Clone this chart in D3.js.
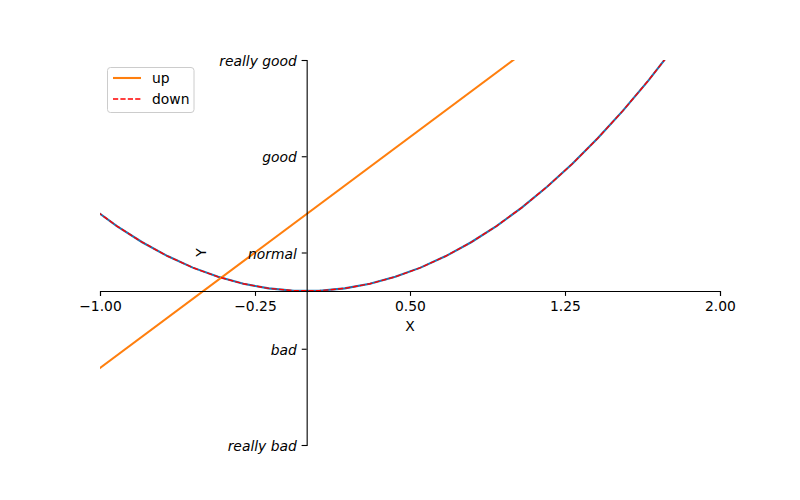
<!DOCTYPE html>
<html><head><meta charset="utf-8">
<script src="https://cdn.jsdelivr.net/npm/d3@7"></script>
<style>body{margin:0;background:#fff;} text{font-family:"DejaVu Sans",sans-serif;}</style>
</head><body>
<div id="chart"></div>
<script>
// data (x sampled from linspace(-3,3,50), visible portion)
const xs = [-1.0408,-0.9184,-0.7959,-0.6735,-0.5510,-0.4286,-0.3061,-0.1837,-0.0612,
            0.0612,0.1837,0.3061,0.4286,0.5510,0.6735,0.7959,0.9184,1.0408,1.1633,
            1.2857,1.4082,1.5306,1.6531,1.7755,1.8980,2.0204];
const downY = [1.0833,0.8434,0.6335,0.4536,0.3036,0.1837,0.0937,0.0337,0.0037,
               0.0037,0.0337,0.0937,0.1837,0.3036,0.4536,0.6335,0.8434,1.0833,1.3532,
               1.6531,1.9830,2.3428,2.7326,3.1524,3.6022,4.0820];
const upX = [-1.0408, 2.0204];
const upY = [-1.0816, 5.0408];
const xTicks = [-1, -0.25, 0.5, 1.25, 2];
const xTickLabels = ["-1.00", "-0.25", "0.50", "1.25", "2.00"];
const yTicks = [-2, -0.75, 0.5, 1.75, 3];
const yTickLabels = ["really bad", "bad", "normal", "good", "really good"];

const W = 800, H = 500;
const L = 100, R = 720, T = 60, B = 445;
const fs = 13.89;
const svg = d3.select("#chart").append("svg").attr("width", W).attr("height", H);
const x = d3.scaleLinear().domain([-1, 2]).range([L, R]);
const y = d3.scaleLinear().domain([-2, 3]).range([B, T]);

svg.append("defs").append("clipPath").attr("id","clip")
  .append("rect").attr("x",L).attr("y",T).attr("width",R-L).attr("height",B-T);

const g = svg.append("g").attr("clip-path","url(#clip)");
const line = d3.line().x(d=>x(d[0])).y(d=>y(d[1]));
const downPts = xs.map((v,i)=>[v, downY[i]]);
const upPts = upX.map((v,i)=>[v, upY[i]]);
g.append("path").attr("d", line(downPts)).attr("fill","none").attr("stroke","#1f77b4").attr("stroke-width",2.1);
g.append("path").attr("d", line(upPts)).attr("fill","none").attr("stroke","#ff7f0e").attr("stroke-width",2.1);
g.append("path").attr("d", line(downPts)).attr("fill","none").attr("stroke","red").attr("stroke-width",1.4).attr("stroke-dasharray","5.2,2.2");

// x axis at y=0
const xAxis = d3.axisBottom(x).tickValues(xTicks).tickFormat((d,i)=>xTickLabels[i]).tickSizeOuter(0).tickSize(4.9).tickPadding(4.9);
const xg = svg.append("g").attr("transform",`translate(0,${y(0)})`).call(xAxis);
xg.select(".domain").attr("stroke","#000").attr("stroke-width",1.1);
xg.selectAll(".tick line").attr("stroke","#000").attr("stroke-width",1.1);
xg.selectAll(".tick text").attr("font-size",fs).attr("fill","#000").attr("font-family","DejaVu Sans").text((d,i)=>xTickLabels[i].replace("-","\u2212"));

// y axis at x=0
const yAxis = d3.axisLeft(y).tickValues(yTicks).tickFormat((d,i)=>yTickLabels[i]).tickSizeOuter(0).tickSize(4.9).tickPadding(4.9);
const yg = svg.append("g").attr("transform",`translate(${x(0)},0)`).call(yAxis);
yg.select(".domain").attr("stroke","#000").attr("stroke-width",1.1);
yg.selectAll(".tick line").attr("stroke","#000").attr("stroke-width",1.1);
yg.selectAll(".tick text").attr("font-size",fs).attr("fill","#000").attr("font-style","italic").attr("font-family","DejaVu Sans").attr("dy","0.4em");

// axis labels
svg.append("text").attr("x",(L+R)/2).attr("y",331).attr("text-anchor","middle").attr("font-size",fs).text("X");
svg.append("text").attr("transform",`translate(206,${(T+B)/2}) rotate(-90)`).attr("text-anchor","middle").attr("font-size",fs).text("Y");

// legend
const lg = svg.append("g");
lg.append("rect").attr("x",107.5).attr("y",67.5).attr("width",86.5).attr("height",45).attr("rx",3)
  .attr("fill","#fff").attr("fill-opacity",0.8).attr("stroke","#cccccc").attr("stroke-width",1);
lg.append("line").attr("x1",113).attr("x2",141).attr("y1",78).attr("y2",78).attr("stroke","#ff7f0e").attr("stroke-width",2.1);
lg.append("line").attr("x1",113).attr("x2",141).attr("y1",99).attr("y2",99).attr("stroke","red").attr("stroke-width",1.4).attr("stroke-dasharray","5.2,2.2");
lg.append("text").attr("x",152).attr("y",83).attr("font-size",fs).text("up");
lg.append("text").attr("x",152).attr("y",104).attr("font-size",fs).text("down");
</script>
</body></html>
